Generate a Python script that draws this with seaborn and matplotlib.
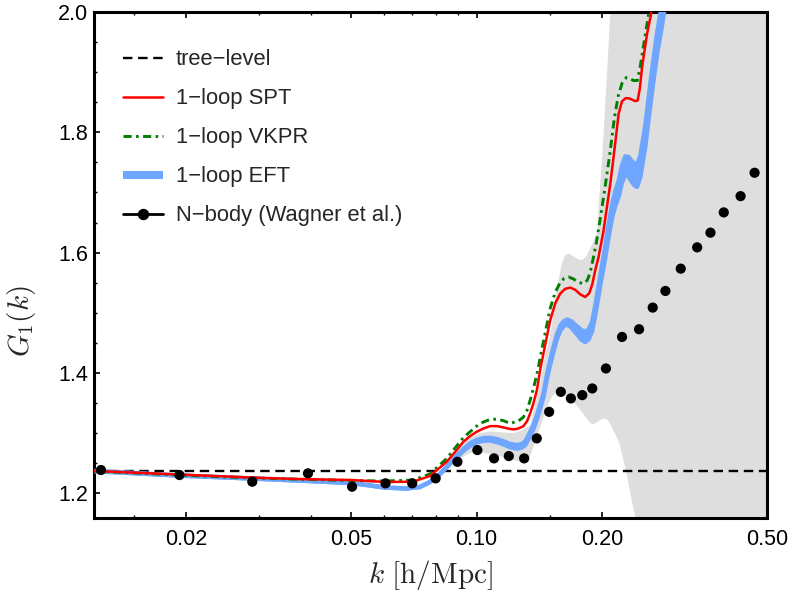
import matplotlib
matplotlib.use("Agg")
import numpy as np
import matplotlib.pyplot as plt
from matplotlib.lines import Line2D
from matplotlib.ticker import FixedLocator, NullFormatter
import seaborn as sns

# ---------------------------------------------------------------- data
tree_level = 1.2375

k_spt = [0.012, 0.0193, 0.0288, 0.0375, 0.0501, 0.0602, 0.0703, 0.0772, 0.0847,
         0.0887, 0.0929, 0.0964, 0.1000, 0.1037, 0.1077, 0.1120, 0.1159, 0.1190, 0.1226,
         0.1258, 0.1296, 0.1322, 0.1345, 0.1370, 0.1396, 0.1421, 0.1461, 0.1503, 0.1545,
         0.1589, 0.1633, 0.1679, 0.1726, 0.1774, 0.1824, 0.1865, 0.1897, 0.1928, 0.1964,
         0.2016, 0.2096, 0.2155, 0.2195, 0.2235, 0.2279, 0.2317, 0.2364, 0.2401, 0.2439,
         0.2468, 0.2499, 0.2569, 0.2691]
g_spt = [1.2372, 1.2312, 1.2262, 1.2237, 1.2221, 1.2188, 1.2193, 1.2287, 1.2524,
         1.2685, 1.2856, 1.2951, 1.3022, 1.3076, 1.3117, 1.3117, 1.3095, 1.3076, 1.3062,
         1.3076, 1.3117, 1.3200, 1.3328, 1.3499, 1.3715, 1.4047, 1.4461, 1.4876, 1.5158,
         1.5320, 1.5399, 1.5419, 1.5383, 1.5308, 1.5263, 1.5324, 1.5474, 1.5706, 1.5927,
         1.6337, 1.7145, 1.7831, 1.8307, 1.8511, 1.8566, 1.8566, 1.8544, 1.8520, 1.8528,
         1.8727, 1.9080, 1.9635, 2.0320]

k_vkpr = [0.012, 0.0193, 0.0288, 0.0501, 0.0602, 0.0703, 0.0772, 0.0847, 0.0929, 0.1000,
          0.1037, 0.1077, 0.1120, 0.1159, 0.1203, 0.1258, 0.1296, 0.1322, 0.1345, 0.1370,
          0.1396, 0.1421, 0.1461, 0.1503, 0.1545, 0.1589, 0.1624, 0.1663, 0.1707, 0.1755,
          0.1807, 0.1845, 0.1876, 0.1907, 0.1939, 0.1983, 0.2039, 0.2096, 0.2143, 0.2191,
          0.2240, 0.2291, 0.2329, 0.2382, 0.2435, 0.2476, 0.2531, 0.2592, 0.2646]
g_vkpr = [1.2368, 1.2304, 1.2254, 1.2212, 1.2204, 1.2221, 1.2320, 1.2578, 1.2926, 1.3117,
          1.3184, 1.3228, 1.3233, 1.3208, 1.3162, 1.3199, 1.3266, 1.3382, 1.3549, 1.3748,
          1.3980, 1.4246, 1.4661, 1.5076, 1.5341, 1.5507, 1.5573, 1.5595, 1.5565, 1.5507,
          1.5485, 1.5540, 1.5673, 1.5905, 1.6154, 1.6569, 1.7117, 1.7698, 1.8229, 1.8610,
          1.8827, 1.8910, 1.8901, 1.8860, 1.8860, 1.9109, 1.9524, 1.9972, 2.0353]

k_eft = [0.012, 0.0193, 0.0288, 0.0375, 0.0501, 0.0602, 0.0678, 0.0730, 0.0772, 0.0807,
         0.0847, 0.0887, 0.0929, 0.0964, 0.1000, 0.1037, 0.1077, 0.1120, 0.1159, 0.1203,
         0.1249, 0.1279, 0.1308, 0.1337, 0.1370, 0.1396, 0.1421, 0.1448, 0.1475, 0.1503,
         0.1528, 0.1559, 0.1589, 0.1619, 0.1648, 0.1688, 0.1742, 0.1784, 0.1824, 0.1860,
         0.1894, 0.1929, 0.1983, 0.2028, 0.2077, 0.2119, 0.2155, 0.2195, 0.2235, 0.2278,
         0.2317, 0.2355, 0.2395, 0.2431, 0.2476, 0.2545, 0.2602, 0.2665, 0.2721, 0.2792,
         0.2844]
g_eft = [1.2370, 1.2295, 1.2246, 1.2212, 1.2171, 1.2096, 1.2080, 1.2105, 1.2188, 1.2287,
         1.2437, 1.2586, 1.2719, 1.2810, 1.2868, 1.2896, 1.2901, 1.2876, 1.2840, 1.2793,
         1.2773, 1.2785, 1.2830, 1.2951, 1.3105, 1.3266, 1.3437, 1.3632, 1.3930, 1.4179,
         1.4378, 1.4599, 1.4744, 1.4818, 1.4848, 1.4810, 1.4710, 1.4636, 1.4599, 1.4644,
         1.4765, 1.5042, 1.5540, 1.5922, 1.6370, 1.6702, 1.6902, 1.7060, 1.7300, 1.7450,
         1.7430, 1.7360, 1.7300, 1.7275, 1.7440, 1.7940, 1.8500, 1.9060, 1.9510, 1.9960,
         2.0320]
# width of the EFT band (spread between counterterm choices)
eft_spread = [0, 0, 0, 0, 0, 0, 0, 0, 0, 0,
              0.001, 0.002, 0.003, 0.004, 0.004, 0.0045, 0.0045, 0.005, 0.005, 0.0055,
              0.006, 0.006, 0.006, 0.006, 0.006, 0.006, 0.006, 0.006, 0.007, 0.007,
              0.007, 0.0075, 0.008, 0.008, 0.008, 0.010, 0.013, 0.016, 0.017, 0.016,
              0.015, 0.015, 0.016, 0.018, 0.020, 0.022, 0.024, 0.026, 0.028, 0.030,
              0.032, 0.034, 0.036, 0.036, 0.035, 0.035, 0.035, 0.035, 0.035, 0.035,
              0.035]

k_band = [0.0863, 0.0912, 0.0964, 0.1019, 0.1077, 0.1120, 0.1171, 0.1224, 0.1272, 0.1308,
          0.1345, 0.1382, 0.1421, 0.1461, 0.1486, 0.1517, 0.1545, 0.1571, 0.1603, 0.1633,
          0.1663, 0.1697, 0.1745, 0.1791, 0.1835, 0.1876, 0.1913, 0.1947, 0.1983, 0.2020,
          0.2058, 0.2096, 0.2131, 0.2167, 0.2204, 0.2240, 0.2278, 0.2329, 0.2368, 0.2408,
          0.2476, 0.2617, 0.5]
band_hi = [1.2553, 1.2785, 1.2934, 1.3001, 1.3026, 1.3022, 1.3009, 1.3001, 1.3034, 1.3084,
           1.3134, 1.3466, 1.3831, 1.4295, 1.4461, 1.4793, 1.5208, 1.5507, 1.5822, 1.5955,
           1.5988, 1.5955, 1.5897, 1.5872, 1.5939, 1.6071, 1.6204, 1.6337, 1.7150, 1.7980,
           1.8976, 1.9972, 2.3, 2.3, 2.3, 2.3, 2.3, 2.3, 2.3, 2.3,
           2.3, 2.3, 2.3]
band_lo = [1.2503, 1.2586, 1.2669, 1.2685, 1.2652, 1.2636, 1.2586, 1.2553, 1.2524, 1.2536,
           1.2619, 1.2851, 1.3100, 1.3349, 1.3482, 1.3598, 1.3665, 1.3715, 1.3681, 1.3632,
           1.3582, 1.3549, 1.3449, 1.3349, 1.3250, 1.3167, 1.3142, 1.3183, 1.3217, 1.3241,
           1.3233, 1.3150, 1.3051, 1.2951, 1.2835, 1.2636, 1.2420, 1.2088, 1.1839, 1.1607,
           1.1142, 0.9, 0.9]

k_nbody = [0.01249, 0.01929, 0.02887, 0.03930, 0.05017, 0.06037, 0.0700, 0.0797, 0.0899,
           0.1004, 0.1101, 0.1195, 0.1301, 0.1395, 0.1494, 0.1594, 0.1685, 0.1795, 0.1897,
           0.2046, 0.2237, 0.2458, 0.2651, 0.2844, 0.3096, 0.3391, 0.3650, 0.3929, 0.4312,
           0.4660]
g_nbody = [1.2387, 1.2304, 1.2193, 1.2332, 1.2110, 1.2166, 1.2166, 1.2249, 1.2524,
           1.2719, 1.2581, 1.2619, 1.2581, 1.2913, 1.3354, 1.3686, 1.3577, 1.3632, 1.3743,
           1.4075, 1.4599, 1.4727, 1.5087, 1.5363, 1.5734, 1.6088, 1.6332, 1.6669, 1.6939,
           1.7328]

xticks = [0.02, 0.05, 0.10, 0.20, 0.50]
xtick_labels = ["0.02", "0.05", "0.10", "0.20", "0.50"]
xminor = [0.015, 0.03, 0.04, 0.06, 0.07, 0.08, 0.09, 0.15, 0.3, 0.4]
yticks = [1.2, 1.4, 1.6, 1.8, 2.0]
ytick_labels = ["1.2", "1.4", "1.6", "1.8", "2.0"]
yminor = [1.25, 1.3, 1.35, 1.45, 1.5, 1.55, 1.65, 1.7, 1.75, 1.85, 1.9, 1.95]

labels = ["tree\u2212level", "1\u2212loop SPT", "1\u2212loop VKPR", "1\u2212loop EFT",
          "N\u2212body (Wagner et al.)"]

# ---------------------------------------------------------------- style
sns.set_style("ticks")
plt.rcParams["font.family"] = ["Liberation Sans", "DejaVu Sans"]
plt.rcParams["mathtext.fontset"] = "cm"

C_SPT = "#ff0000"
C_VKPR = "#007f00"
C_EFT = "#6ea6ff"
C_BAND = "#dedede"

DASH_TREE = (0, (4, 2.4))
DASH_VKPR = (0, (2.8, 1.5, 0.9, 1.5))

fig = plt.figure(figsize=(7.93, 5.96), dpi=100)
ax = fig.add_axes([0.1182, 0.1309, 0.8494, 0.8490])

# uncertainty envelope
ax.fill_between(k_band, band_lo, band_hi, color=C_BAND, lw=0, zorder=1)

# tree-level reference
sns.lineplot(x=[0.012, 0.5], y=[tree_level, tree_level], ax=ax, color="black",
             lw=1.7, linestyle=DASH_TREE, sort=False, estimator=None, zorder=3)

# EFT band
eft_mid = np.array(g_eft)
eft_half = np.array(eft_spread) / 2.0
eft_lo = eft_mid - eft_half
eft_hi = eft_mid + eft_half
ax.fill_between(k_eft, eft_lo, eft_hi, color=C_EFT, lw=0, zorder=4)
for edge in (eft_lo, eft_hi):
    sns.lineplot(x=k_eft, y=edge, ax=ax, color=C_EFT, lw=3.2, sort=False,
                 estimator=None, zorder=4)

# SPT and VKPR
sns.lineplot(x=k_spt, y=g_spt, ax=ax, color=C_SPT, lw=1.8, sort=False,
             estimator=None, zorder=6)
sns.lineplot(x=k_vkpr, y=g_vkpr, ax=ax, color=C_VKPR, lw=2.1,
             linestyle=DASH_VKPR, sort=False, estimator=None, zorder=5)

# simulation measurements
sns.scatterplot(x=k_nbody, y=g_nbody, ax=ax, color="black", s=54, edgecolor="none",
                zorder=7)

# ---------------------------------------------------------------- axes
ax.set_xscale("log")
ax.set_xlim(0.012, 0.5)
ax.set_ylim(1.159, 2.0)
ax.xaxis.set_major_locator(FixedLocator(xticks))
ax.set_xticklabels(xtick_labels)
ax.xaxis.set_minor_locator(FixedLocator(xminor))
ax.xaxis.set_minor_formatter(NullFormatter())
ax.yaxis.set_major_locator(FixedLocator(yticks))
ax.set_yticklabels(ytick_labels)
ax.yaxis.set_minor_locator(FixedLocator(yminor))

for s in ax.spines.values():
    s.set_linewidth(2.2)
    s.set_color("black")
    s.set_visible(True)
ax.tick_params(which="both", direction="in", top=True, right=True, color="black",
               labelsize=15.5, labelcolor="black")
ax.tick_params(which="major", length=4.5, width=1.2)
ax.tick_params(which="minor", length=2.5, width=1.0)
ax.tick_params(axis="x", which="major", pad=8)
ax.tick_params(axis="y", which="major", pad=4)

ax.set_xlabel(r"$k\ [\mathrm{h/Mpc}]$", fontsize=21, labelpad=6)
ax.set_ylabel(r"$G_1(k)$", fontsize=21)
ax.yaxis.set_label_coords(-0.082, 0.39)

handles = [
    Line2D([], [], color="black", lw=1.7, linestyle=DASH_TREE),
    Line2D([], [], color=C_SPT, lw=1.8),
    Line2D([], [], color=C_VKPR, lw=2.1, linestyle=DASH_VKPR),
    Line2D([], [], color=C_EFT, lw=5.8, solid_capstyle="butt"),
    Line2D([], [], color="black", lw=2.0, marker="o", markersize=7.2),
]
leg = ax.legend(handles, labels, loc="upper left", bbox_to_anchor=(0.043, 0.926),
                frameon=False, fontsize=15.8, handlelength=1.85, handletextpad=0.58,
                labelspacing=0.82, borderpad=0, borderaxespad=0, numpoints=1)

fig.savefig("out.png", dpi=100)
